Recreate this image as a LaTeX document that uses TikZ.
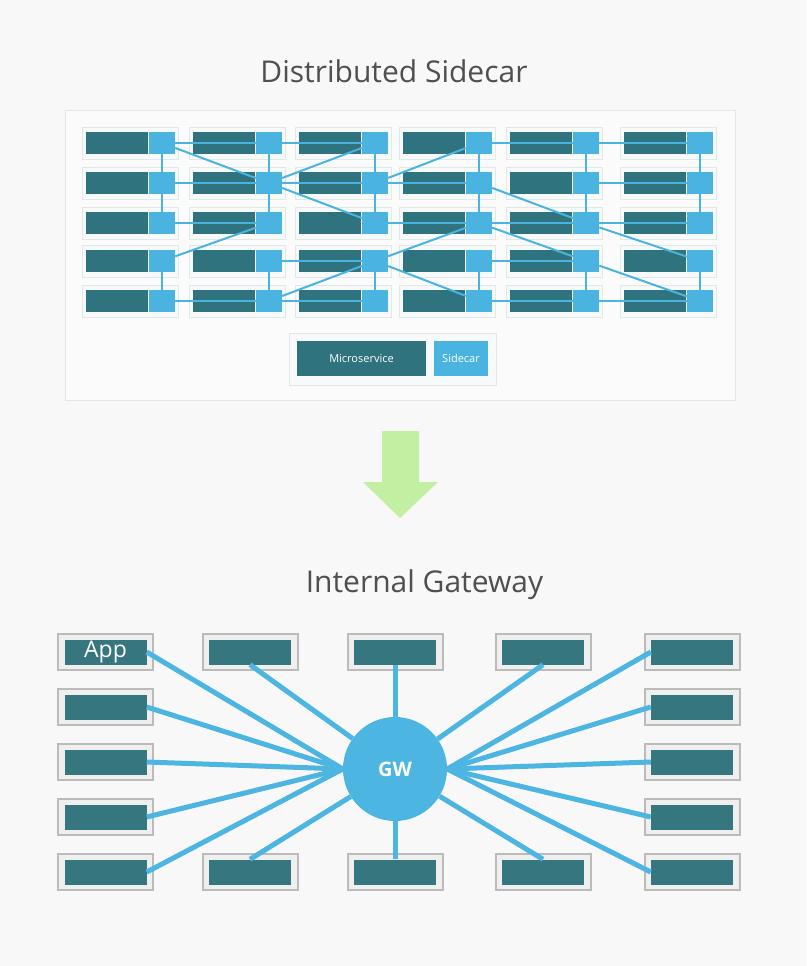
\documentclass[tikz,border=0pt]{standalone}
\usepackage{fontspec}
\setmainfont{Open Sans}
\definecolor{pagebg}{HTML}{F8F8F8}
\definecolor{panelfill}{HTML}{FBFBFB}
\definecolor{panelline}{HTML}{E6E6E6}
\definecolor{cellfill}{HTML}{F7FAFA}
\definecolor{cellline}{HTML}{E0E8E8}
\definecolor{microteal}{HTML}{2F737F}
\definecolor{carblue}{HTML}{4AB3E0}
\definecolor{boxfill}{HTML}{EFEFEF}
\definecolor{boxline}{HTML}{BBBBBB}
\definecolor{appteal}{HTML}{35767F}
\definecolor{gwblue}{HTML}{4DB5E1}
\definecolor{arrowgreen}{HTML}{C3EFA2}
\definecolor{headgray}{HTML}{4F4F4F}

\begin{document}
\begin{tikzpicture}[x=1pt, y=-1pt,
    cell/.style={draw=cellline, fill=cellfill, line width=0.8pt, minimum width=96, minimum height=32, inner sep=0pt},
    micro/.style={fill=microteal, minimum width=62, minimum height=22, inner sep=0pt},
    car/.style={fill=carblue, minimum width=26, minimum height=22, inner sep=0pt},
    link/.style={draw=carblue, line width=2pt},
    keytext/.style={text=white, font=\fontsize{11}{12}\selectfont},
    box/.style={draw=boxline, fill=boxfill, line width=2pt, minimum width=95, minimum height=36, inner sep=0pt},
    app/.style={fill=appteal, minimum width=82, minimum height=25, inner sep=0pt},
    spoke/.style={draw=gwblue, line width=5pt},
    heading/.style={text=headgray, font=\fontsize{30}{34}\selectfont, anchor=base}
  ]
  \useasboundingbox (0,0) rectangle (806,966);
  \fill[pagebg] (0,0) rectangle (806,966);

  \node[heading] (sidecartitle) at (394,82) {Distributed Sidecar};
  \node[draw=panelline, fill=panelfill, minimum width=670, minimum height=290, inner sep=0pt] (panel) at (400,255) {};

  \foreach \c/\mx in {1/117, 2/224, 3/330, 4/434, 5/541, 6/655}
    \foreach \r/\ry in {1/143, 2/183, 3/223, 4/261, 5/301} {
      \node[cell] (c\c\r) at (\mx+13,\ry) {};
      \node[micro] (m\c\r) at (\mx,\ry) {};
      \node[car] (s\c\r) at (\mx+45,\ry) {};
    }

  % rows
  \foreach \a/\b in {11/21, 21/31, 41/51, 51/61, 12/22, 22/32, 32/42, 52/62,
                     13/23, 33/43, 43/53, 53/63, 24/34, 44/54, 15/25, 25/35, 45/55, 55/65}
    \draw[link] (s\a) -- (s\b);
  % columns
  \foreach \a/\b in {11/12, 12/13, 14/15, 21/22, 22/23, 24/25, 31/32, 32/33, 34/35,
                     41/42, 42/43, 44/45, 51/52, 52/53, 54/55, 61/62, 62/63, 64/65}
    \draw[link] (s\a) -- (s\b);
  % cross links
  \foreach \a/\b in {11/22, 31/22, 22/33, 14/23, 25/34, 32/41, 34/43, 34/45,
                     42/53, 43/54, 53/64, 54/65}
    \draw[link] (s\a) -- (s\b);

  \node[draw=panelline, fill=cellfill, minimum width=207, minimum height=52, inner sep=0pt] (key) at (392.5,359) {};
  \node[micro, minimum width=129, minimum height=35, keytext] (keymicro) at (361.5,358.5) {Microservice};
  \node[car, minimum width=54, minimum height=35, keytext] (keycar) at (461,358.5) {Sidecar};

  \fill[arrowgreen] (382,431) -- (419,431) -- (419,482) -- (438,482) -- (400,518)
    -- (363,482) -- (382,482) -- cycle;

  \node[heading] (gatewaytitle) at (424.5,592) {Internal Gateway};

  \node[circle, fill=gwblue, minimum size=104, inner sep=0pt, text=white,
    font=\bfseries\fontsize{20}{20}\selectfont] (gw) at (395,769) {GW};

  \foreach \c/\bx in {1/105.5, 5/692}
    \foreach \r/\by in {1/652, 2/707, 3/762, 4/817, 5/872} {
      \node[box] (o\c\r) at (\bx,\by) {};
      \node[app] (a\c\r) at (\bx,\by) {};
    }
  \foreach \c/\bx in {2/250, 3/395, 4/543}
    \foreach \r/\by in {1/652, 5/872} {
      \node[box] (o\c\r) at (\bx,\by) {};
      \node[app] (a\c\r) at (\bx,\by) {};
    }
  \node[text=white, font=\fontsize{23}{23}\selectfont] (applabel) at (a11) {App};

  \foreach \r in {1,...,5} {
    \draw[spoke] (a1\r.east) -- (gw.west);
    \draw[spoke] (a5\r.west) -- (gw.east);
  }
  \foreach \c in {2,3,4} {
    \draw[spoke] (a\c1.south) -- (gw);
    \draw[spoke] (a\c5.north) -- (gw);
  }
\end{tikzpicture}
\end{document}
